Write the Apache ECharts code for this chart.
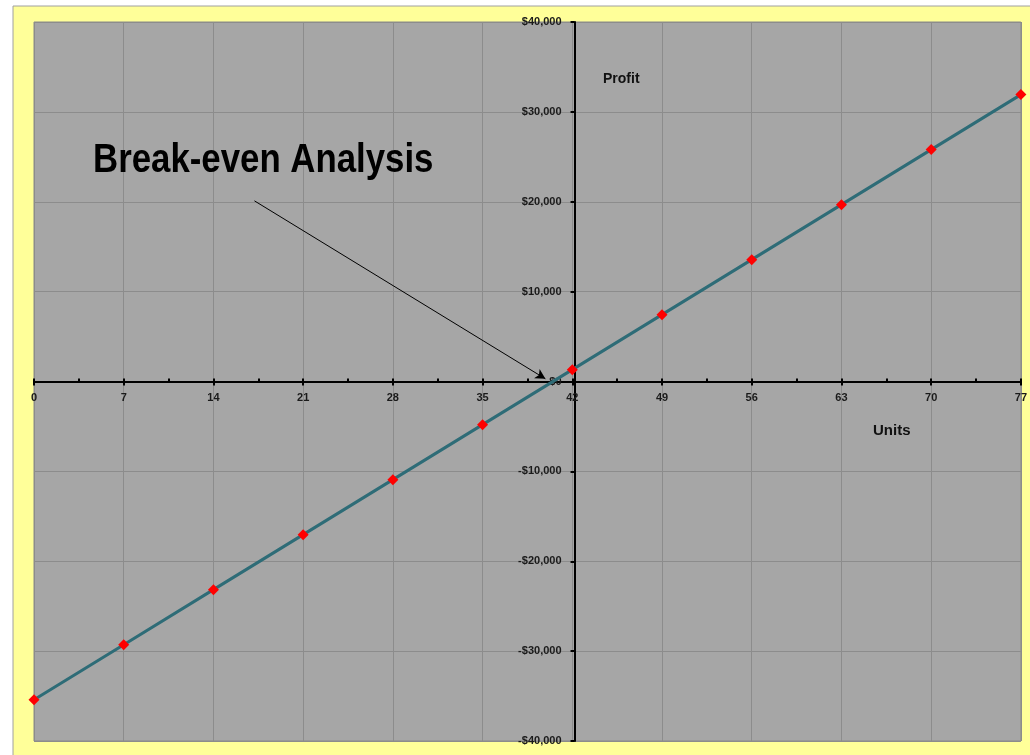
<!DOCTYPE html>
<html>
<head>
<meta charset="utf-8">
<script src="https://cdn.jsdelivr.net/npm/echarts@6/dist/echarts.min.js"></script>
<style>html,body{margin:0;padding:0;background:#fff;}#c{width:1030px;height:755px;}</style>
</head>
<body>
<div id="c"></div>
<script>
const units = [0, 7, 14, 21, 28, 35, 42, 49, 56, 63, 70, 77];
const profit = [-35400, -29280, -23160, -17040, -10920, -4800, 1320, 7440, 13560, 19680, 25800, 31920];
const xTicks = [0, 7, 14, 21, 28, 35, 42, 49, 56, 63, 70, 77];
const yTicks = [-40000, -30000, -20000, -10000, 0, 10000, 20000, 30000, 40000];
const titleText = 'Break-even Analysis';
const yName = 'Profit';
const xName = 'Units';
const yCross = 42;
const xCross = 0;
const arrowFrom = [17.2, 20100];
const arrowTo = [39.9, 300];

const W = 1030, H = 755;
const G = {left: 34, top: 22, right: 5, bottom: 14};
const gw = W - G.left - G.right;
const gh = H - G.top - G.bottom;
const xMin = xTicks[0], xMax = xTicks[xTicks.length - 1];
const yMin = yTicks[0], yMax = yTicks[yTicks.length - 1];
const yOffset = -((yCross - xMin) / (xMax - xMin)) * gw;
const xOffset = -((xCross - yMin) / (yMax - yMin)) * gh;

const font = 'Liberation Sans, Arial, sans-serif';
function money(v) {
  const s = '$' + Math.abs(v).toLocaleString('en-US');
  return v < 0 ? '-' + s : s;
}

const chart = echarts.init(document.getElementById('c'), null, {renderer: 'canvas'});
chart.setOption({
  backgroundColor: '#ffffff',
  animation: false,
  grid: {left: G.left, top: G.top, right: G.right, bottom: G.bottom, show: true,
         backgroundColor: '#A6A6A6', borderColor: '#8a8a8a', borderWidth: 1},
  graphic: [
    {type: 'rect', z: -100, shape: {x: 13, y: 6, width: 1040, height: 760},
     style: {fill: '#FFFF99', stroke: '#a0a0a0', lineWidth: 1}, silent: true},
    {type: 'text', left: 93, top: 141, z: 100, scaleX: 0.87,
     style: {text: titleText, font: 'bold 40px ' + font, fill: '#000'}},
    {type: 'text', left: 603, top: 72, z: 100,
     style: {text: yName, font: 'bold 14px ' + font, fill: '#111'}},
    {type: 'text', left: 873, top: 423, z: 100,
     style: {text: xName, font: 'bold 15px ' + font, fill: '#111'}}
  ],
  xAxis: [{
    type: 'value', min: xMin, max: xMax, interval: 7,
    position: 'bottom', offset: xOffset,
    axisLine: {onZero: false, lineStyle: {color: '#000', width: 2}},
    axisTick: {show: true, length: 4, lineStyle: {color: '#000', width: 2}},
    axisLabel: {color: '#1a1a1a', fontFamily: font, fontWeight: 'bold', fontSize: 11, margin: 11},
    splitLine: {show: true, lineStyle: {color: '#8c8c8c', width: 1}}
  }, {
    type: 'value', min: xMin, max: xMax, interval: 3.5,
    position: 'bottom', offset: xOffset,
    axisLine: {show: false, onZero: false},
    axisTick: {show: true, inside: true, length: 3, lineStyle: {color: '#000', width: 2}},
    axisLabel: {show: false}, splitLine: {show: false}
  }],
  yAxis: {
    type: 'value', min: yMin, max: yMax, interval: 10000,
    position: 'left', offset: yOffset,
    axisLine: {show: true, onZero: false, lineStyle: {color: '#000', width: 2}},
    axisTick: {show: true, length: 4, lineStyle: {color: '#000', width: 2}},
    axisLabel: {color: '#1a1a1a', fontFamily: font, fontWeight: 'bold', fontSize: 11, margin: 13,
                formatter: money},
    splitLine: {show: true, lineStyle: {color: '#8c8c8c', width: 1}}
  },
  series: [{
    type: 'line', xAxisIndex: 0,
    data: units.map((u, i) => [u, profit[i]]),
    symbol: 'diamond', symbolSize: 11,
    itemStyle: {color: '#FF0000'},
    lineStyle: {color: '#2E6C77', width: 3},
    z: 5,
    markLine: {
      silent: true, symbol: ['none', 'arrow'], symbolSize: [8, 10],
      label: {show: false},
      lineStyle: {color: '#000', width: 1, type: 'solid'},
      data: [[{coord: arrowFrom}, {coord: arrowTo}]]
    }
  }]
});
</script>
</body>
</html>
